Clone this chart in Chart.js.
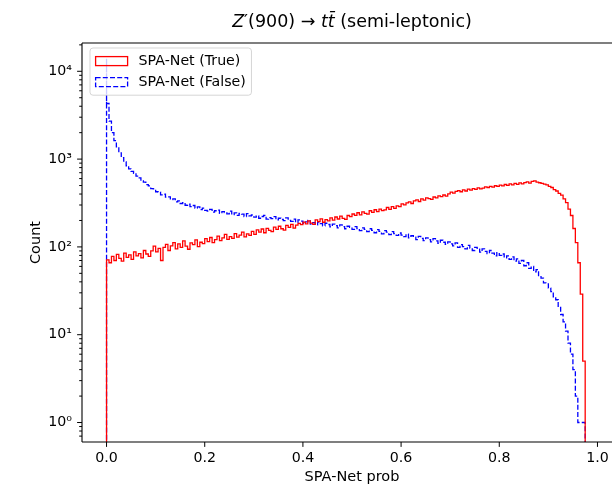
<!DOCTYPE html>
<html><head><meta charset="utf-8">
<script src="https://cdn.jsdelivr.net/npm/chart.js@4/dist/chart.umd.min.js"></script>
<style>
html,body{margin:0;padding:0;overflow:hidden;background:#fff;width:612px;height:488px}
#wrap{position:absolute;left:0;top:0;width:640px;height:488px}
</style></head><body><div id="wrap"><canvas id="c" width="640" height="488"></canvas></div>
<script>
// ---- data ----
const binWidth = 0.005;           // histogram bin width on SPA-Net prob
const trueCounts = [
  56, 71, 66, 78, 70, 82, 74, 69, 85, 76, 81, 72, 88, 79, 84, 75, 91, 83, 78, 90,
  102, 88, 96, 70, 99, 107, 91, 103, 112, 95, 108, 99, 117, 102, 94, 111, 106, 120, 101, 113,
  109, 124, 115, 128, 112, 121, 133, 118, 127, 139, 122, 131, 125, 142, 129, 136, 147, 130, 141, 135,
  150, 139, 156, 147, 160, 145, 163, 154, 149, 168, 158, 172, 161, 155, 176, 167, 181, 164, 177, 185,
  179, 192, 183, 198, 187, 181, 203, 194, 209, 191, 205, 198, 214, 202, 219, 208, 224, 211, 206, 228,
  221, 237, 229, 245, 232, 251, 241, 236, 258, 247, 265, 252, 270, 259, 264, 281, 268, 287, 275, 294,
  288, 309, 301, 318, 326, 312, 335, 344, 329, 352, 341, 361, 355, 347, 370, 362, 381, 373, 390, 378,
  402, 421, 410, 429, 438, 425, 446, 433, 455, 444, 462, 451, 470, 458, 466, 483, 475, 490, 479, 497,
  488, 506, 495, 514, 502, 521, 509, 528, 516, 535, 522, 541, 550, 533, 557, 564, 546, 538, 530, 519,
  508, 489, 475, 448, 433, 406, 388, 352, 320, 270, 228, 162, 112, 66, 29, 5
];
const falseCounts = [
  14000, 4300, 2700, 2000, 1620, 1380, 1180, 1040, 930, 840, 775, 725, 690, 640, 610, 565, 548, 512, 495, 462,
  458, 425, 421, 392, 398, 368, 372, 345, 352, 326, 335, 312, 320, 298, 306, 287, 296, 276, 285, 266,
  276, 261, 255, 268, 249, 258, 263, 241, 252, 246, 238, 255, 233, 244, 229, 240, 236, 222, 239, 226,
  231, 218, 226, 212, 222, 229, 207, 216, 210, 221, 203, 212, 206, 199, 214, 201, 195, 207, 190, 203,
  197, 186, 193, 201, 182, 189, 178, 192, 184, 174, 186, 180, 169, 182, 175, 165, 178, 170, 161, 172,
  167, 158, 170, 162, 153, 165, 158, 149, 161, 154, 145, 157, 150, 141, 153, 147, 138, 149, 142, 135,
  144, 136, 131, 140, 127, 134, 129, 121, 132, 125, 118, 127, 121, 114, 124, 117, 110, 119, 113, 107,
  114, 108, 103, 111, 99, 106, 101, 95, 104, 97, 91, 99, 94, 87, 95, 89, 84, 91, 85, 79,
  86, 80, 83, 75, 79, 72, 77, 69, 73, 65, 70, 61, 66, 57, 60, 52, 55, 47, 44, 39,
  38, 34, 31, 27, 25, 21, 17, 14, 11, 8, 6, 4, 2, 1, 1, 1
];
const seriesLabels = ['SPA-Net (True)', 'SPA-Net (False)'];
const xTickValues = [0.0, 0.2, 0.4, 0.6, 0.8, 1.0];
const yMajorValues = [1, 10, 100, 1000, 10000];
const yMajorLabels = ['10\u2070', '10\u00b9', '10\u00b2', '10\u00b3', '10\u2074'];
const xTitle = 'SPA-Net prob';
const yTitle = 'Count';
const titleParts = [
  {text: 'Z', italic: true}, {text: '\u2032(900) \u2192 ', italic: false},
  {text: 't', italic: true}, {text: 't\u0304', italic: true}, {text: ' (semi-leptonic)', italic: false}
];
const EMPTY = 0.01; // stands for an empty bin (below the visible log range)

// step-histogram points: left bin edges with the bin count
function stepPoints(counts) {
  const pts = [{x: 0, y: EMPTY}];
  counts.forEach((c, i) => pts.push({x: +(i * binWidth).toFixed(4), y: c}));
  pts.push({x: +(counts.length * binWidth).toFixed(4), y: EMPTY});
  return pts;
}

const FONT = '"DejaVu Sans", sans-serif';

const decorPlugin = {
  id: 'decor',
  afterDatasetsDraw(chart) {
    const {ctx, chartArea: a, scales} = chart;
    ctx.save();
    ctx.strokeStyle = '#000';
    ctx.lineWidth = 1.1;
    ctx.beginPath();
    ctx.moveTo(a.left, a.top); ctx.lineTo(a.right, a.top);
    ctx.moveTo(a.left, a.bottom); ctx.lineTo(a.right, a.bottom);
    ctx.moveTo(a.left, a.top); ctx.lineTo(a.left, a.bottom);
    ctx.moveTo(a.right, a.top); ctx.lineTo(a.right, a.bottom);
    ctx.stroke();
    ctx.lineWidth = 1.0;
    ctx.beginPath();
    xTickValues.forEach(v => {
      const px = scales.x.getPixelForValue(v);
      ctx.moveTo(px, a.bottom); ctx.lineTo(px, a.bottom + 4.9);
    });
    scales.y.ticks.forEach(t => {
      const py = scales.y.getPixelForValue(t.value);
      const len = yMajorValues.includes(t.value) ? 4.9 : 2.8;
      ctx.moveTo(a.left, py); ctx.lineTo(a.left - len, py);
    });
    ctx.stroke();
    ctx.restore();
  },
  afterDraw(chart) {
    const {ctx, chartArea: a} = chart;
    ctx.save();
    // title
    const size = 17.5;
    ctx.fillStyle = '#000';
    ctx.textBaseline = 'alphabetic';
    let total = 0;
    titleParts.forEach(p => {
      ctx.font = (p.italic ? 'italic ' : '') + size + 'px ' + FONT;
      p.w = ctx.measureText(p.text).width; total += p.w;
    });
    let x = (a.left + a.right) / 2 - total / 2;
    titleParts.forEach(p => {
      ctx.font = (p.italic ? 'italic ' : '') + size + 'px ' + FONT;
      ctx.textAlign = 'left';
      ctx.fillText(p.text, x, 27);
      x += p.w;
    });
    // legend
    const fs = 14.2;
    ctx.font = fs + 'px ' + FONT;
    const ds = chart.data.datasets;
    const textW = Math.max(...ds.map(d => ctx.measureText(d.label).width));
    const bx = a.left + 8, by = a.top + 5;
    const pad = 5.6, handleW = 32, handleH = 9, gap = 11, rowH = 15, rowSp = 6;
    const bw = pad + handleW + gap + textW + pad;
    const bh = pad * 2 + rowH * ds.length + rowSp * (ds.length - 1);
    ctx.beginPath();
    if (ctx.roundRect) ctx.roundRect(bx, by, bw, bh, 3); else ctx.rect(bx, by, bw, bh);
    ctx.fillStyle = 'rgba(255,255,255,0.8)';
    ctx.fill();
    ctx.strokeStyle = 'rgba(204,204,204,0.8)';
    ctx.lineWidth = 1;
    ctx.stroke();
    ds.forEach((d, i) => {
      const cy = by + pad + rowH / 2 + i * (rowH + rowSp);
      ctx.save();
      ctx.strokeStyle = d.borderColor;
      ctx.lineWidth = d.borderWidth;
      ctx.setLineDash(d.borderDash || []);
      ctx.strokeRect(bx + pad, cy - handleH / 2, handleW, handleH);
      ctx.restore();
      ctx.fillStyle = '#000';
      ctx.textAlign = 'left';
      ctx.textBaseline = 'middle';
      ctx.fillText(d.label, bx + pad + handleW + gap, cy + 0.5);
    });
    ctx.restore();
  }
};

new Chart(document.getElementById('c'), {
  type: 'line',
  data: {
    datasets: [
      {label: seriesLabels[0], data: stepPoints(trueCounts), stepped: 'after',
       borderColor: '#ff0000', backgroundColor: 'transparent', borderWidth: 1.3,
       pointRadius: 0, fill: false},
      {label: seriesLabels[1], data: stepPoints(falseCounts), stepped: 'after',
       borderColor: '#0000ff', backgroundColor: 'transparent', borderWidth: 1.3,
       borderDash: [5, 2.2], pointRadius: 0, fill: false}
    ]
  },
  options: {
    responsive: false, animation: false, devicePixelRatio: 1,
    layout: {padding: {left: 0, right: 18, top: 43, bottom: 0}},
    plugins: {legend: {display: false}, title: {display: false}, tooltip: {enabled: false}},
    scales: {
      x: {
        type: 'linear', min: -0.05, max: 1.05,
        afterBuildTicks: s => { s.ticks = xTickValues.map(v => ({value: v})); },
        afterFit: s => { s.height = 46; },
        grid: {display: false, drawTicks: false}, border: {display: false},
        ticks: {autoSkip: false, maxRotation: 0, padding: 8, color: '#000',
                font: {family: 'DejaVu Sans', size: 14.2},
                callback: v => Number(v).toFixed(1)},
        title: {display: true, text: xTitle, color: '#000',
                font: {family: 'DejaVu Sans', size: 14.5}, padding: {top: 0, bottom: 2}}
      },
      y: {
        type: 'logarithmic', min: 0.64, max: 21000,
        afterBuildTicks: s => {
          const t = [];
          for (let k = -1; k <= 4; k++) for (let m = 1; m <= 9; m++) {
            const v = +(m * Math.pow(10, k)).toPrecision(3);
            if (v >= 0.64 && v <= 21000) t.push({value: v});
          }
          s.ticks = t;
        },
        afterFit: s => { s.width = 82; },
        grid: {display: false, drawTicks: false}, border: {display: false},
        ticks: {autoSkip: false, padding: 10, color: '#000',
                font: {family: 'DejaVu Sans', size: 14.2},
                callback: v => { const i = yMajorValues.indexOf(Number(v)); return i >= 0 ? yMajorLabels[i] : ''; }},
        title: {display: true, text: yTitle, color: '#000',
                font: {family: 'DejaVu Sans', size: 14.5}, padding: {top: 28, bottom: 0}}
      }
    }
  },
  plugins: [decorPlugin]
});
</script></body></html>
